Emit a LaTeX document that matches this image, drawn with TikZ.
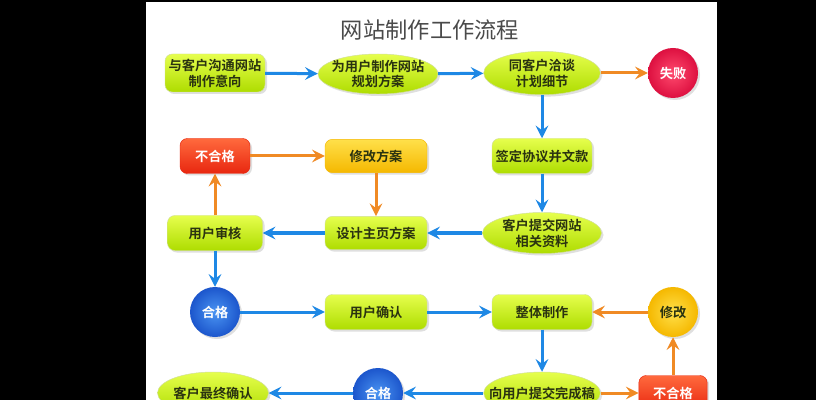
\documentclass[tikz,border=0pt]{standalone}
\usepackage{fontspec}
\setmainfont{Noto Sans CJK SC}[BoldFont={Noto Sans CJK SC Bold}]
\usetikzlibrary{arrows.meta, shapes.geometric, shadows}

\definecolor{limeA}{HTML}{E6FF4D}
\definecolor{limeB}{HTML}{AEDC00}
\definecolor{redA}{HTML}{FF6A3D}
\definecolor{redB}{HTML}{E8260F}
\definecolor{goldA}{HTML}{FFE04A}
\definecolor{goldB}{HTML}{F5B800}
\definecolor{crimsonA}{HTML}{FF4A6E}
\definecolor{crimsonB}{HTML}{DD1040}
\definecolor{blueA}{HTML}{4A94F2}
\definecolor{blueB}{HTML}{1C56CC}
\definecolor{flowblue}{HTML}{1E88E5}
\definecolor{floworange}{HTML}{F08A24}
\definecolor{txtdark}{HTML}{2A3310}
\definecolor{titlegray}{HTML}{4A4A4A}

\tikzset{
  box/.style={rectangle, rounded corners=0.22cm, top color=limeA, bottom color=limeB,
    draw=limeB!80!black!40, font=\bfseries\fontsize{11.3}{13.5}\selectfont, text=txtdark, inner sep=1pt,
    drop shadow={opacity=0.25, shadow xshift=0.06cm, shadow yshift=-0.06cm}},
  oval/.style={ellipse, top color=limeA, bottom color=limeB, draw=limeB!80!black!40,
    font=\bfseries\fontsize{11.3}{13.5}\selectfont, text=txtdark, inner xsep=-0.45cm, inner ysep=-0.12cm, align=center,
    drop shadow={opacity=0.25, shadow xshift=0.06cm, shadow yshift=-0.06cm}},
  ball/.style={circle, minimum size=1.5cm, font=\bfseries\fontsize{11.3}{13.5}\selectfont, text=white,
    drop shadow={opacity=0.25, shadow xshift=0.06cm, shadow yshift=-0.06cm}},
  flow/.style={-{Stealth[length=0.38cm, width=0.38cm, inset=0.14cm]}, line width=0.09cm, flowblue},
  back/.style={-{Stealth[length=0.38cm, width=0.38cm, inset=0.14cm]}, line width=0.09cm, floworange},
}

\begin{document}
\begin{tikzpicture}[x=0.03cm, y=-0.03cm]
  % frame
  \fill[black] (0,0) rectangle (816,400);
  \fill[white] (146,2) rectangle (717,400);
  \useasboundingbox (0,0) rectangle (816,400);
  \clip (0,0) rectangle (816,400);

  % title
  \node[font=\fontsize{19}{22}\selectfont, text=titlegray] (title) at (430,30) {网站制作工作流程};

  % row 1
  \node[box, minimum width=3cm, minimum height=1.14cm, align=center] (talk) at (215,73) {与客户沟通网站\\制作意向};
  \node[oval, minimum width=3.6cm, minimum height=1.2cm] (plan) at (378,74) {为用户制作网站\\规划方案};
  \node[oval, minimum width=3.5cm, minimum height=1.3cm] (detail) at (542,73) {同客户洽谈\\计划细节};
  \node[ball, inner color=crimsonA, outer color=crimsonB] (fail) at (673,73) {失败};

  % row 2
  \node[box, top color=redA, bottom color=redB, draw=redB, text=white, minimum width=2.1cm, minimum height=1.05cm] (reject) at (215,156) {不合格};
  \node[box, top color=goldA, bottom color=goldB, draw=goldB, minimum width=3.06cm, minimum height=1cm] (revise) at (376,156) {修改方案};
  \node[box, minimum width=3cm, minimum height=1.05cm] (sign) at (542,156) {签定协议并文款};

  % row 3
  \node[box, minimum width=2.85cm, minimum height=1.05cm] (review) at (215,233) {用户审核};
  \node[box, minimum width=3.06cm, minimum height=1cm] (design) at (376,233) {设计主页方案};
  \node[oval, minimum width=3.57cm, minimum height=1.23cm] (material) at (542,233) {客户提交网站\\相关资料};

  % row 4
  \node[ball, inner color=blueA, outer color=blueB] (pass) at (215,312) {合格};
  \node[box, minimum width=3.06cm, minimum height=1.05cm] (confirm) at (376,312) {用户确认};
  \node[box, minimum width=3cm, minimum height=1.05cm] (build) at (542,312) {整体制作};
  \node[ball, inner color=goldA, outer color=goldB, text=txtdark] (fix) at (673,312) {修改};

  % row 5
  \node[oval, minimum width=3.33cm, minimum height=1.26cm] (final) at (213,393) {客户最终确认};
  \node[ball, inner color=blueA, outer color=blueB] (pass2) at (378,393) {合格};
  \node[oval, minimum width=3.5cm, minimum height=1.26cm] (submit) at (542,393) {向用户提交完成稿};
  \node[box, top color=redA, bottom color=redB, draw=redB, text=white, minimum width=2.05cm, minimum height=1.05cm] (reject2) at (673,393) {不合格};

  % connectors
  \draw[flow] (talk) -- (plan);
  \draw[flow] (plan) -- (detail);
  \draw[back] (detail) -- (fail);
  \draw[flow] (detail) -- (sign);
  \draw[flow] (sign) -- (material);
  \draw[flow] (material) -- (design);
  \draw[flow] (design) -- (review);
  \draw[back] (review) -- (reject);
  \draw[back] (reject) -- (revise);
  \draw[back] (revise) -- (design);
  \draw[flow] (review) -- (pass);
  \draw[flow] (pass) -- (confirm);
  \draw[flow] (confirm) -- (build);
  \draw[back] (fix) -- (build);
  \draw[flow] (build) -- (submit);
  \draw[back] (submit) -- (reject2);
  \draw[back] (reject2) -- (fix);
  \draw[flow] (submit) -- (pass2);
  \draw[flow] (pass2) -- (final);
\end{tikzpicture}
\end{document}
